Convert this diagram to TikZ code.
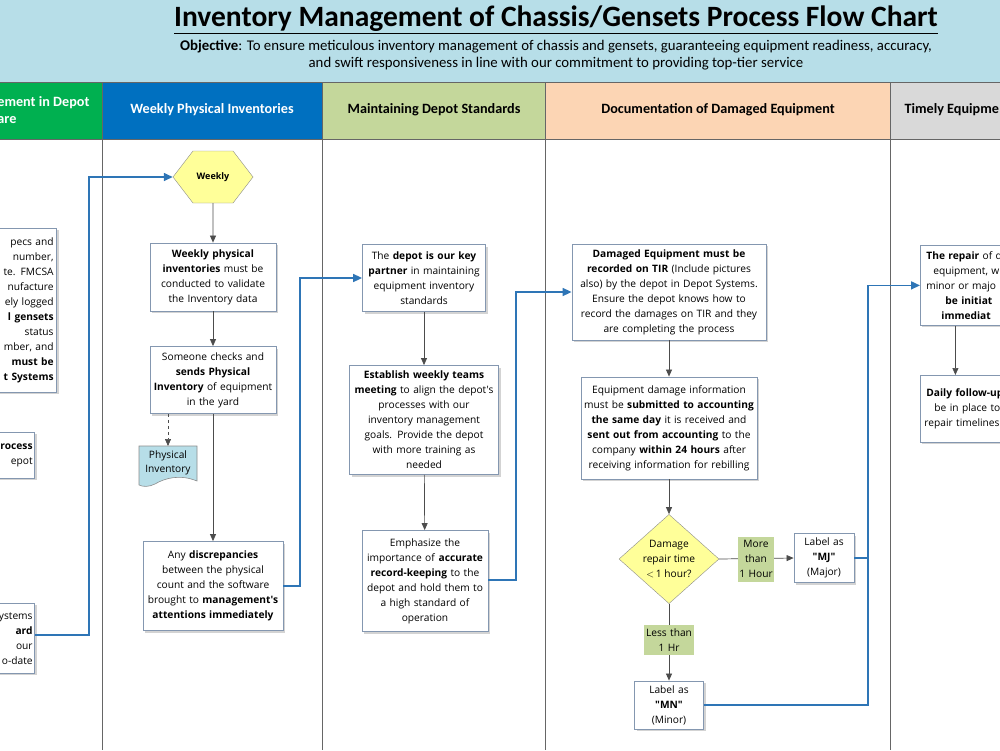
\documentclass[tikz,border=0pt]{standalone}
\usepackage{fontspec}
\setmainfont{Carlito}
\newfontfamily\boxf{Open Sans}
\usetikzlibrary{shapes.geometric,shapes.symbols,arrows.meta,shadows}
\definecolor{titlebg}{HTML}{B7DEE8}
\definecolor{lgreen}{HTML}{00B050}
\definecolor{lblue}{HTML}{0070C0}
\definecolor{lolive}{HTML}{C4D79B}
\definecolor{lpeach}{HTML}{FCD5B4}
\definecolor{lgrey}{HTML}{D9D9D9}
\definecolor{flowblue}{HTML}{2E75B6}
\definecolor{boxline}{HTML}{8497B0}
\definecolor{hexfill}{HTML}{FFFF99}
\definecolor{docfill}{HTML}{B7DEE8}
\definecolor{lblfill}{HTML}{C4D79B}
\tikzset{
 box/.style={draw=boxline, fill=white, line width=0.8pt, align=center, font=\boxf\fontsize{10.2}{15}\selectfont, inner xsep=0pt, inner ysep=2pt, drop shadow={shadow xshift=2pt,shadow yshift=-2pt,opacity=0.35,fill=gray}},
 hdr/.style={font=\bfseries\fontsize{14.2}{17}\selectfont, align=center},
 arr/.style={draw=black!70, line width=0.7pt, -{Triangle[length=7pt,width=6pt]}},
 flow/.style={draw=flowblue, line width=1.6pt, -{Triangle[length=9pt,width=8pt]}},
 lbl/.style={fill=lblfill, align=center, font=\boxf\fontsize{10.2}{15}\selectfont, inner sep=0pt}
}
\begin{document}
\begin{tikzpicture}[x=1pt,y=-1pt]
\useasboundingbox (0,0) rectangle (1000,750);
\clip (0,0) rectangle (1000,750);
% title band
\fill[titlebg] (0,0) rectangle (1000,82);
\node[font=\bfseries\fontsize{29.5}{33}\selectfont] (title) at (556,20) {\underline{Inventory Management of Chassis/Gensets Process Flow Chart}};
\node[font=\fontsize{14.8}{17}\selectfont, align=center] (obj) at (556,55) {\textbf{Objective}: To ensure meticulous inventory management of chassis and gensets, guaranteeing equipment readiness, accuracy,\\and swift responsiveness in line with our commitment to providing top-tier service};
% headers
\fill[lgreen] (0,82) rectangle (102,139);
\fill[lblue] (102,82) rectangle (322,139);
\fill[lolive] (322,82) rectangle (545,139);
\fill[lpeach] (545,82) rectangle (890,139);
\fill[lgrey] (890,82) rectangle (1000,139);
\draw[black!60, line width=0.8pt] (0,82) -- (1000,82) (0,139) -- (1000,139);
\foreach \x in {102,322,545,890} \draw[black!60, line width=0.8pt] (\x,82) -- (\x,750);
\node[hdr, text=white, anchor=east, align=left] (h1) at (93,110) {ement in Depot\\are};
\node[hdr, text=white] (h2) at (212,110) {Weekly Physical Inventories};
\node[hdr] (h3) at (434,110) {Maintaining Depot Standards};
\node[hdr] (h4) at (718,110) {Documentation of Damaged Equipment};
\node[hdr, anchor=west] (h5) at (901,110) {Timely Equipme};
% left column (cut off)
\node[box, align=right, minimum width=90pt, minimum height=164pt, anchor=north east, text width=84pt] (l1) at (57,228) {pecs and\\number,\\te. FMCSA\\nufacture\\ely logged\\\textbf{l gensets}\\status\hspace*{6pt}\\mber, and\\\textbf{must be}\\\textbf{t Systems}\hspace*{3pt}};
\node[box, align=right, minimum width=60pt, minimum height=46pt, anchor=north east, text width=56pt] (l2) at (35,432) {\textbf{rocess}\\epot\hspace*{12pt}};
\node[box, align=right, minimum width=60pt, minimum height=70pt, anchor=north east, text width=56pt] (l3) at (35,603) {ystems\\\textbf{ard}\hspace*{12pt}\\our\hspace*{4pt}\\o-date};
% weekly lane
\node[signal, signal to=east and west, signal pointer angle=105, draw=black!45, fill=hexfill, minimum width=80pt, minimum height=52pt, font=\boxf\bfseries\fontsize{9}{10}\selectfont, inner sep=1pt] (hex) at (213,177) {Weekly};
\node[box, text width=126pt, minimum height=68pt] (w1) at (213,277) {\textbf{Weekly physical}\\\textbf{inventories} must be\\conducted to validate\\the Inventory data};
\node[box, text width=126pt, minimum height=67pt] (w2) at (213,380) {Someone checks and\\\textbf{sends Physical}\\\textbf{Inventory} of equipment\\in the yard};
\fill[docfill, draw=black!45, line width=0.6pt] (139,446) -- (197,446) -- (197,481) .. controls (180,474) and (165,478) .. (155,484) .. controls (149,487) and (143,487) .. (139,485) -- cycle;
\coordinate (doctop) at (168,446);
\node[align=center, font=\boxf\fontsize{10.2}{14}\selectfont] (doc) at (168,463) {Physical\\Inventory};
\node[box, text width=140pt, minimum height=89pt] (w3) at (213,586) {Any \textbf{discrepancies}\\between the physical\\count and the software\\brought to \textbf{management's}\\\textbf{attentions immediately}};
% depot standards
\node[box, text width=123pt, minimum height=67pt] (m1) at (424,278) {The \textbf{depot is our key}\\\textbf{partner} in maintaining\\equipment inventory\\standards};
\node[box, text width=149pt, minimum height=109pt] (m2) at (424,420) {\textbf{Establish weekly teams}\\\textbf{meeting} to align the depot's\\processes with our\\inventory management\\goals. Provide the depot\\with more training as\\needed};
\node[box, text width=126pt, minimum height=101pt] (m3) at (425,581) {Emphasize the\\importance of \textbf{accurate}\\\textbf{record-keeping} to the\\depot and hold them to\\a high standard of\\operation};
% damaged equipment
\node[box, text width=194pt, minimum height=96pt] (d1) at (669,292) {\textbf{Damaged Equipment must be}\\\textbf{recorded on TIR} (Include pictures\\also) by the depot in Depot Systems.\\Ensure the depot knows how to\\record the damages on TIR and they\\are completing the process};
\node[box, text width=176pt, minimum height=102pt] (d2) at (669,428) {Equipment damage information\\must be \textbf{submitted to accounting}\\\textbf{the same day} it is received and\\\textbf{sent out from accounting} to the\\company \textbf{within 24 hours} after\\receiving information for rebilling};
\node[diamond, draw=black!45, fill=hexfill, minimum width=100pt, minimum height=74pt, inner sep=0pt, align=center, font=\boxf\fontsize{10.2}{14.6}\selectfont] (dia) at (669,559) {Damage\\repair time\\$<$\,1 hour?};
\node[box, text width=60pt, minimum height=49pt] (mj) at (824,558) {Label as\\\textbf{"MJ"}\\(Major)};
\node[box, text width=69pt, minimum height=48pt] (mn) at (669,705) {Label as\\\textbf{"MN"}\\(Minor)};
\draw[arr] (dia.east) -- (mj.west);
\node[lbl, text width=36pt, minimum height=45pt] (more) at (756,559) {More\\than\\1 Hour};
\draw[arr] (dia.south) -- (mn.north);
\node[lbl, text width=50pt, minimum height=30pt] (less) at (669,640) {Less than\\1 Hr};
% timely repair (cut off)
\node[box, align=left, anchor=north west, minimum width=100pt, minimum height=80pt, text width=96pt] (t1) at (920,245) {\hspace*{4pt}\textbf{The repair} of d\\\hspace*{11pt}equipment, w\\\hspace*{4pt}minor or majo\\\hspace*{23pt}\textbf{be initiat}\\\hspace*{19pt}\textbf{immediat}};
\node[box, align=left, anchor=north west, minimum width=100pt, minimum height=67pt, text width=96pt] (t2) at (920,375) {\hspace*{4pt}\textbf{Daily follow-up}\\\hspace*{12pt}be in place to\\\hspace*{2pt}repair timelines};
% arrows
\draw[arr] (hex) -- (w1);
\draw[arr] (w1) -- (w2);
\draw[arr, dashed] (w2.south -| doctop) -- (doctop);
\draw[arr] (w2) -- (w3);
\draw[arr] (m1) -- (m2);
\draw[arr] (m2) -- (m3);
\draw[arr] (d1) -- (d2);
\draw[arr] (d2) -- (dia);
\draw[arr] ([xshift=-15pt]t1.south) -- ([xshift=-15pt]t2.north);
% blue flow connectors
\coordinate (c1) at (89,635);
\coordinate (c2) at (300,586);
\coordinate (c3) at (516,580);
\coordinate (c4) at (868,558);
\draw[flow] (l3.east |- c1) -- (c1) |- (hex.west);
\draw[flow] (w3.east |- c2) -- (c2) |- (m1.west);
\draw[flow] (m3.east |- c3) -- (c3) |- (d1.west);
\draw[flow] (mj.east) -- (c4) |- (t1.west);
\draw[draw=flowblue, line width=1.6pt] (mn.east) -| (c4);
\end{tikzpicture}
\end{document}
